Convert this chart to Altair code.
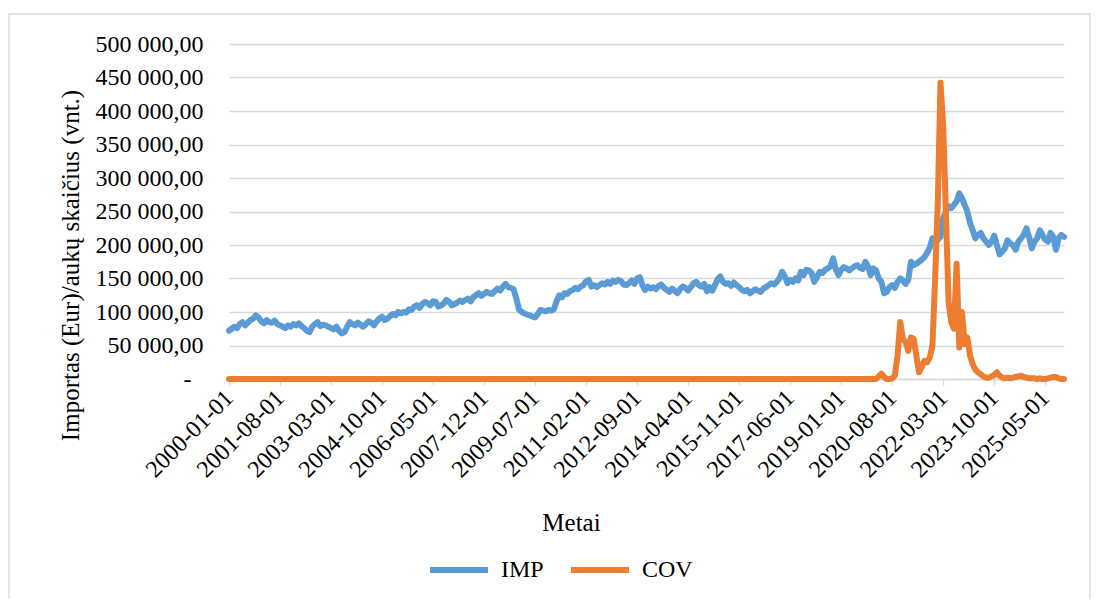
import altair as alt
import pandas as pd

# ---------------- data ----------------
months = [d.strftime("%Y-%m-%d") for d in pd.date_range("2000-01-01", "2025-12-01", freq="MS")]

tick_labels = ["2000-01-01", "2001-08-01", "2003-03-01", "2004-10-01", "2006-05-01",
               "2007-12-01", "2009-07-01", "2011-02-01", "2012-09-01", "2014-04-01",
               "2015-11-01", "2017-06-01", "2019-01-01", "2020-08-01", "2022-03-01",
               "2023-10-01", "2025-05-01"]

y_ticks = [0, 50000, 100000, 150000, 200000, 250000, 300000, 350000, 400000, 450000, 500000]

# IMP, thousands EUR, one row per year (Jan..Dec)
imp_2000 = [72, 75, 78, 76, 82, 85, 80, 84, 88, 90, 95, 92]
imp_2001 = [86, 83, 88, 85, 84, 87, 82, 80, 78, 76, 80, 78]
imp_2002 = [82, 80, 83, 79, 76, 72, 70, 78, 82, 85, 79, 81]
imp_2003 = [80, 78, 76, 74, 78, 72, 68, 70, 78, 85, 82, 80]
imp_2004 = [84, 81, 78, 82, 86, 84, 80, 86, 90, 93, 88, 90]
imp_2005 = [94, 97, 95, 100, 98, 100, 99, 104, 103, 108, 110, 106]
imp_2006 = [112, 115, 113, 110, 116, 115, 108, 110, 113, 118, 115, 110]
imp_2007 = [112, 114, 117, 115, 118, 120, 116, 122, 125, 128, 124, 127]
imp_2008 = [130, 128, 127, 131, 135, 132, 138, 142, 137, 136, 134, 120]
imp_2009 = [104, 100, 98, 96, 95, 93, 92, 97, 103, 102, 101, 103]
imp_2010 = [102, 104, 116, 125, 122, 128, 127, 131, 133, 136, 134, 138]
imp_2011 = [140, 146, 148, 138, 140, 137, 140, 143, 141, 145, 142, 147]
imp_2012 = [145, 148, 146, 141, 140, 143, 147, 142, 150, 152, 140, 133]
imp_2013 = [138, 135, 137, 134, 139, 141, 136, 133, 130, 135, 132, 128]
imp_2014 = [134, 138, 136, 132, 137, 143, 145, 140, 138, 142, 131, 137]
imp_2015 = [132, 140, 149, 153, 145, 142, 143, 139, 144, 140, 137, 133]
imp_2016 = [131, 133, 128, 131, 134, 132, 130, 135, 137, 140, 143, 141]
imp_2017 = [145, 150, 160, 153, 143, 148, 145, 150, 147, 160, 155, 163]
imp_2018 = [162, 158, 145, 152, 160, 158, 163, 165, 168, 180, 164, 155]
imp_2019 = [163, 167, 165, 162, 165, 168, 170, 166, 164, 175, 168, 155]
imp_2020 = [165, 162, 150, 145, 128, 130, 137, 140, 136, 145, 150, 147]
imp_2021 = [142, 148, 175, 170, 172, 175, 178, 182, 188, 196, 210, 208]
imp_2022 = [208, 212, 240, 250, 258, 255, 260, 265, 277, 270, 260, 250]
imp_2023 = [233, 222, 210, 215, 218, 210, 205, 200, 205, 214, 200, 186]
imp_2024 = [190, 195, 207, 202, 200, 193, 205, 210, 215, 225, 212, 195]
imp_2025 = [205, 210, 222, 215, 208, 205, 218, 212, 193, 210, 215, 212]

imp_years = [imp_2000, imp_2001, imp_2002, imp_2003, imp_2004, imp_2005, imp_2006,
             imp_2007, imp_2008, imp_2009, imp_2010, imp_2011, imp_2012, imp_2013,
             imp_2014, imp_2015, imp_2016, imp_2017, imp_2018, imp_2019, imp_2020,
             imp_2021, imp_2022, imp_2023, imp_2024, imp_2025]

# COV, thousands, zero for 2000-2019
cov_2000_2019 = [0] * 240
cov_2020 = [0, 0, 4, 8, 3, 0, 0, 1, 5, 35, 85, 60]
cov_2021 = [55, 42, 62, 60, 35, 10, 18, 27, 25, 32, 50, 150]
cov_2022 = [265, 442, 380, 250, 115, 85, 75, 172, 47, 100, 52, 62]
cov_2023 = [35, 22, 14, 10, 7, 4, 2, 2, 4, 6, 10, 5]
cov_2024 = [2, 1, 2, 1, 2, 3, 4, 5, 3, 2, 1, 1]
cov_2025 = [1, 0, 1, 0, 0, 1, 2, 3, 3, 1, 0, 0]

imp_vals = [v * 1000 for yr in imp_years for v in yr]
cov_vals = [v * 1000 for v in cov_2000_2019 + cov_2020 + cov_2021 + cov_2022 + cov_2023 + cov_2024 + cov_2025]

df = pd.DataFrame({
    "date": months + months,
    "value": imp_vals + cov_vals,
    "series": ["IMP"] * len(months) + ["COV"] * len(months),
})

FONT = "Liberation Serif"
GRID = "#D9D9D9"

y_label_expr = ("datum.value == 0 ? '-' : "
                "replace(replace(format(datum.value, ',.2f'), ',', ' '), '.', ',')")

lines = alt.Chart(df).mark_line(strokeWidth=6, strokeCap="round", strokeJoin="round").encode(
    x=alt.X("date:O", sort=None,
            scale=alt.Scale(type="point", padding=0),
            axis=alt.Axis(values=tick_labels, labelAngle=-45, labelAlign="right",
                          labelBaseline="middle", labelPadding=9, tickSize=6,
                          tickColor=GRID, tickWidth=1.3, domainColor=GRID, domainWidth=1.3,
                          grid=False, title="Metai", titleX=342, titleY=143,
                          titleBaseline="middle", titleAlign="center",
                          labelFont=FONT, titleFont=FONT,
                          labelFontSize=24, titleFontSize=25)),
    y=alt.Y("value:Q",
            scale=alt.Scale(domain=[0, 500000], nice=False),
            axis=alt.Axis(values=y_ticks, labelExpr=y_label_expr, grid=True,
                          gridColor=GRID, gridWidth=1.3, domain=False, ticks=False,
                          labelPadding=alt.condition("datum.value == 0", alt.value(38), alt.value(26)),
                          labelFont=FONT, titleFont=FONT,
                          labelFontSize=24,
                          title="Importas (Eur)/aukų skaičius (vnt.)",
                          titleFontSize=25, titleX=-159, titleY=221,
                          titleBaseline="middle", titleAlign="center")),
    color=alt.Color("series:N", sort=["IMP", "COV"],
                    scale=alt.Scale(domain=["IMP", "COV"], range=["#5B9BD5", "#ED7D31"]),
                    legend=alt.Legend(orient="none", legendX=198, legendY=494,
                                      direction="horizontal", title=None,
                                      symbolType="stroke", symbolSize=3364,
                                      symbolStrokeWidth=6, labelFontSize=24,
                                      labelFont=FONT,
                                      labelOffset=10, columnPadding=15, padding=0)),
)

frame = alt.Chart(pd.DataFrame({"a": [0]})).mark_rect(
    fill="transparent", stroke=GRID, strokeWidth=1.3, clip=False
).encode(x=alt.value(-220), x2=alt.value(861), y=alt.value(-30), y2=alt.value(600))

chart = alt.layer(frame, lines).properties(
    width=835, height=335,
    autosize=alt.AutoSizeParams(type="none"),
    padding={"left": 221, "top": 36, "right": 27, "bottom": 220},
).configure_view(stroke=None).configure_axis(
    labelFont=FONT, titleFont=FONT, labelColor="#000000", titleColor="#000000",
    titleFontWeight="normal"
).configure_legend(labelFont=FONT, labelColor="#000000")

chart.save("out.html", embed_options={"renderer": "svg", "actions": False})
